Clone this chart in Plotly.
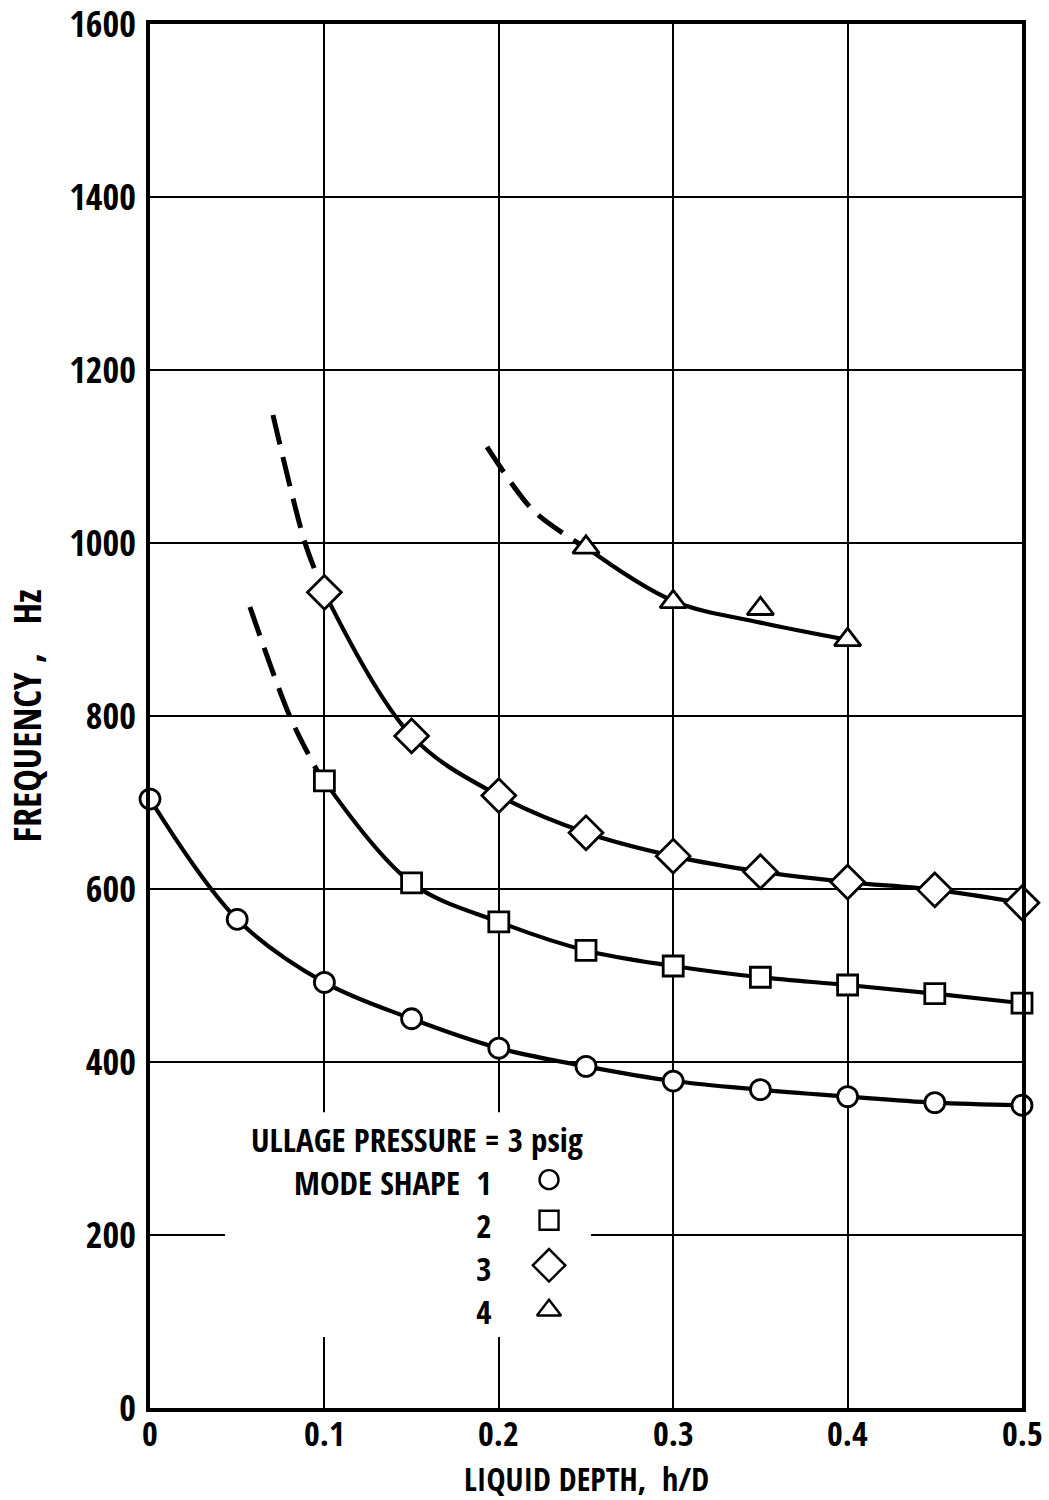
import plotly.graph_objects as go

# ---- data ----
x_pts = [0.0, 0.05, 0.10, 0.15, 0.20, 0.25, 0.30, 0.35, 0.40, 0.45, 0.50]
mode1 = [704, 565, 492, 450, 416, 395, 378, 368, 360, 353, 350]

x_m2 = [0.10, 0.15, 0.20, 0.25, 0.30, 0.35, 0.40, 0.45, 0.50]
mode2 = [725, 607, 562, 529, 511, 498, 489, 479, 468]

x_m3 = [0.10, 0.15, 0.20, 0.25, 0.30, 0.35, 0.40, 0.45, 0.50]
mode3 = [943, 777, 708, 665, 638, 620, 608, 599, 584]

x_m4 = [0.25, 0.30, 0.35, 0.40]
mode4 = [995, 932, 924, 888]

# faired curve for mode 4 (passes below the 0.35 point)
x_m4_curve = [0.25, 0.30, 0.35, 0.40]
y_m4_curve = [995, 933, 908, 888]

# dashed extrapolations
x_m2_dash = [0.0573, 0.0803, 0.0992]
y_m2_dash = [926, 799, 724]
x_m3_dash = [0.0705, 0.0889, 0.0998]
y_m3_dash = [1148, 1000, 943]
x_m4_dash = [0.1932, 0.2200, 0.2494]
y_m4_dash = [1111, 1037, 995]

x_ticks = [0, 0.1, 0.2, 0.3, 0.4, 0.5]
x_tick_text = ["0", "0.1", "0.2", "0.3", "0.4", "0.5"]
y_ticks = [0, 200, 400, 600, 800, 1000, 1200, 1400, 1600]

legend_title = "ULLAGE PRESSURE = 3 psig"
legend_labels = ["MODE SHAPE  1", "2", "3", "4"]
legend_symbols = ["circle-open", "square-open", "diamond-open", "triangle-up-open"]
legend_sizes = [19, 19, 25, 21]
legend_x = 0.2288
legend_y = [264, 217, 165, 113]

FONT = "Open Sans Condensed, Roboto Condensed, DejaVu Sans Condensed, sans-serif"
BLACK = "#000000"
W = 600

fig = go.Figure()

LW = 4.2
# solid curves
for xs, ys in [(x_pts, mode1), (x_m2, mode2), (x_m3, mode3), (x_m4_curve, y_m4_curve)]:
    fig.add_trace(go.Scatter(x=xs, y=ys, mode="lines", cliponaxis=False,
                             line=dict(color=BLACK, width=LW, shape="spline"), hoverinfo="skip"))

# dashed curves
for xs, ys in [(x_m2_dash, y_m2_dash), (x_m3_dash, y_m3_dash), (x_m4_dash, y_m4_dash)]:
    fig.add_trace(go.Scatter(x=xs, y=ys, mode="lines",
                             line=dict(color=BLACK, width=5, shape="spline", smoothing=0.8, dash="30px,13px"),
                             hoverinfo="skip"))

def mk(symbol, size):
    return dict(symbol=symbol, size=size, color="white", line=dict(color=BLACK, width=2.8))

fig.add_trace(go.Scatter(x=x_pts, y=mode1, mode="markers", cliponaxis=False, marker=mk("circle", 20)))
fig.add_trace(go.Scatter(x=x_m2, y=mode2, mode="markers", cliponaxis=False, marker=mk("square", 20)))
fig.add_trace(go.Scatter(x=x_m3, y=mode3, mode="markers", cliponaxis=False, marker=mk("diamond", 26)))
fig.add_trace(go.Scatter(x=x_m4, y=mode4, mode="markers", cliponaxis=False, marker=mk("triangle-up", 23)))

# legend key markers
for sym, sz, yy in zip(legend_symbols, legend_sizes, legend_y):
    fig.add_trace(go.Scatter(x=[legend_x], y=[yy], mode="markers",
                             marker=dict(symbol=sym, size=sz, color=BLACK, line=dict(color=BLACK, width=2.4)),
                             hoverinfo="skip"))

# white block behind the key that interrupts grid lines
fig.add_shape(type="rect", xref="x", yref="y", x0=0.043, x1=0.2529, y0=82, y1=342,
              fillcolor="white", line=dict(width=0), layer="between")

TF = dict(family=FONT, size=33, color=BLACK, weight=W)
ann = []
ann.append(dict(x=0.1529, y=310, xref="x", yref="y", text=legend_title,
                showarrow=False, xanchor="center", yanchor="middle", font=TF))
ann.append(dict(x=0.1975, y=legend_y[0], xref="x", yref="y", text="<br>".join(legend_labels),
                showarrow=False, xanchor="right", yanchor="top", yshift=22, align="right", font=TF))

# x tick labels
for tv, tt in zip(x_ticks, x_tick_text):
    ann.append(dict(x=tv, y=0, xref="x", yref="paper", text=tt, showarrow=False,
                    xanchor="center", yanchor="middle", yshift=-25,
                    font=dict(family=FONT, size=34, color=BLACK, weight=W)))
# x axis title
ann.append(dict(x=0.5, y=0, xref="paper", yref="paper", text="LIQUID DEPTH,  h/D", showarrow=False,
                xanchor="center", yanchor="middle", yshift=-70,
                font=dict(family=FONT, size=32, color=BLACK, weight=W)))

fig.update_layout(
    width=1049, height=1500,
    margin=dict(l=150, r=27, t=24, b=92, autoexpand=False),
    paper_bgcolor="white", plot_bgcolor="white",
    showlegend=False,
    annotations=ann,
    font=dict(family=FONT, color=BLACK),
)

fig.update_xaxes(range=[0, 0.5], tickvals=x_ticks, showticklabels=False,
                 showgrid=True, gridcolor=BLACK, gridwidth=1.8,
                 showline=True, linecolor=BLACK, linewidth=4, mirror=True,
                 ticks="", zeroline=False, automargin=False)
fig.update_yaxes(range=[0, 1600], tickvals=y_ticks,
                 showgrid=True, gridcolor=BLACK, gridwidth=1.8,
                 showline=True, linecolor=BLACK, linewidth=4, mirror=True,
                 ticks="", zeroline=False, ticklabelstandoff=3, automargin=False,
                 ticklabeloverflow="allow",
                 tickfont=dict(family=FONT, size=36, color=BLACK, weight=W),
                 title=dict(text="FREQUENCY ,   Hz",
                            font=dict(family=FONT, size=38, color=BLACK, weight=W), standoff=18))

fig.write_html("out.html")
